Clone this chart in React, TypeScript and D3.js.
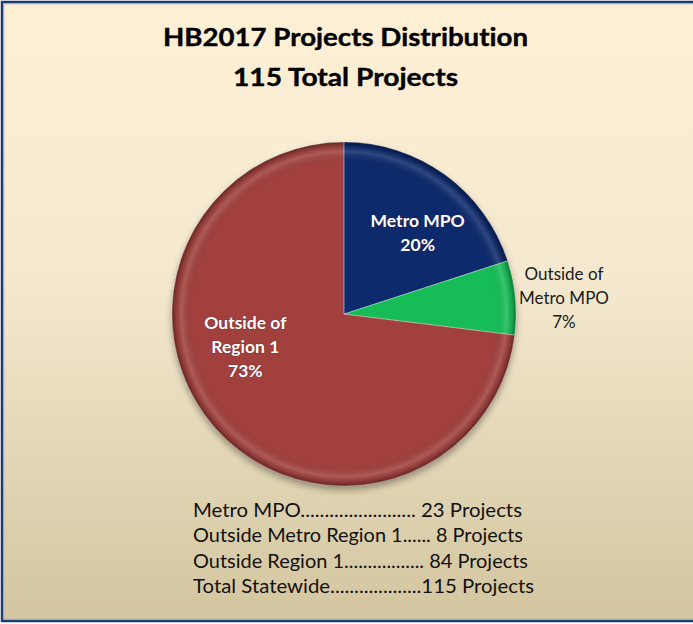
import React from 'react';
import * as d3 from 'd3';

// ---- data ----
const titleLines = ['HB2017 Projects Distribution', '115 Total Projects'];
const categories = ['Metro MPO', 'Outside of Metro MPO', 'Outside of Region 1'];
const labelLines = [['Metro MPO'], ['Outside of', 'Metro MPO'], ['Outside of', 'Region 1']];
const projectCounts = [23, 8, 84];
const summaryLabels = ['Metro MPO', 'Outside Metro Region 1', 'Outside Region 1', 'Total Statewide'];
const summaryValues = [23, 8, 84, 115];

// ---- styles ----
const W = 693;
const H = 624;
const sliceColors = ['#0F2A6C', '#12BD57', '#A13F3D'];
const labelInside = [true, false, true];
const labelRadius = [110, 221, 105];
const labelNudge = [[9, 8], [0, 5.5], [-20, -36]];
const labelSizes = [17.5, 17, 17.5];
const leaderDots = [24, 6, 17, 19];
const summaryWidths = [329, 330, 335, 341];
const titleWidths = [365, 225];
const FONT = 'Lato, "Open Sans", sans-serif';

export default function App() {
  const cx = 344;
  const cy = 314;
  const R = 172;
  const total = d3.sum(projectCounts);

  const pie = d3.pie<number>().sort(null).value((d) => d);
  const arcs = pie(projectCounts);
  const arcGen = d3.arc<d3.PieArcDatum<number>>().innerRadius(0).outerRadius(R);

  const lh = 24;

  return (
    <svg
      width={W}
      height={H}
      style={{ position: 'fixed', left: 0, top: 0, display: 'block', fontVariantLigatures: 'none' }}
      fontFamily={FONT}
    >
      <defs>
        <linearGradient id="bg" x1="0" y1="0" x2="0" y2="1">
          <stop offset="0" stopColor="#FEF0D5" />
          <stop offset="0.45" stopColor="#F4E9CF" />
          <stop offset="1" stopColor="#D3C59F" />
        </linearGradient>
        <radialGradient id="bevel" cx="0.5" cy="0.5" r="0.5">
          <stop offset="0" stopColor="#000" stopOpacity="0" />
          <stop offset="0.88" stopColor="#000" stopOpacity="0" />
          <stop offset="0.945" stopColor="#fff" stopOpacity="0.14" />
          <stop offset="0.98" stopColor="#000" stopOpacity="0.14" />
          <stop offset="1" stopColor="#000" stopOpacity="0.4" />
        </radialGradient>
        <filter id="shadow" x="-20%" y="-20%" width="140%" height="140%">
          <feDropShadow dx="0" dy="4" stdDeviation="3.5" floodColor="#000" floodOpacity="0.35" />
        </filter>
      </defs>

      <rect x={0} y={0} width={W} height={H} fill="#fff" />
      <rect x={2} y={2} width={W + 10} height={619} fill="url(#bg)" stroke="#1E3A72" strokeWidth={2.5} />
      <rect x={3.8} y={3.8} width={W + 10} height={615.4} fill="none" stroke="#A9ADB8" strokeWidth={1} />

      {/* title */}
      {titleLines.map((t, i) => (
        <text
          key={t}
          x={345.5}
          y={46 + i * 40}
          textAnchor="middle"
          fontSize={25}
          fontWeight={700}
          fill="#000"
          stroke="#000"
          strokeWidth={0.4}
          textLength={titleWidths[i]}
          lengthAdjust="spacingAndGlyphs"
        >
          {t}
        </text>
      ))}

      {/* pie */}
      <g transform={`translate(${cx},${cy})`}>
        <g filter="url(#shadow)">
          {arcs.map((a, i) => (
            <path key={categories[i]} d={arcGen(a) || ''} fill={sliceColors[i]} />
          ))}
        </g>
        <circle r={R} fill="url(#bevel)" />
        {arcs.map((a, i) => (
          <path
            key={'e' + i}
            d={arcGen(a) || ''}
            fill="none"
            stroke="#fff"
            strokeOpacity={0.25}
            strokeWidth={1}
          />
        ))}
      </g>

      {/* slice labels */}
      {arcs.map((a, i) => {
        const lab = d3.arc<d3.PieArcDatum<number>>().innerRadius(labelRadius[i]).outerRadius(labelRadius[i]);
        const [lx, ly] = lab.centroid(a);
        const pct = Math.round((projectCounts[i] / total) * 100) + '%';
        const lines = [...labelLines[i], pct];
        const x = cx + lx + labelNudge[i][0];
        const yc = cy + ly + labelNudge[i][1];
        const capH = labelSizes[i] * 0.68;
        const y0 = yc - ((lines.length - 1) * lh) / 2 + capH / 2;
        const inside = labelInside[i];
        return (
          <text
            key={'l' + i}
            x={x}
            y={y0}
            textAnchor="middle"
            fontSize={labelSizes[i]}
            fontWeight={inside ? 700 : 400}
            fill={inside ? '#fff' : '#1a1a1a'}
            style={inside ? { paintOrder: 'stroke' } : undefined}
            stroke={inside ? 'rgba(60,20,40,0.35)' : 'none'}
            strokeWidth={inside ? 1.2 : 0}
          >
            {lines.map((l, j) => (
              <tspan key={j} x={x} dy={j === 0 ? 0 : lh}>
                {l}
              </tspan>
            ))}
          </text>
        );
      })}

      {/* summary */}
      {summaryLabels.map((s, i) => (
        <text
          key={s}
          x={193}
          y={517 + i * 25.3}
          fontSize={19.5}
          fill="#111"
          textLength={summaryWidths[i]}
          lengthAdjust="spacingAndGlyphs"
        >
          {`${s}${'.'.repeat(leaderDots[i])}${i === 3 ? '' : ' '}${summaryValues[i]} Projects`}
        </text>
      ))}
    </svg>
  );
}
